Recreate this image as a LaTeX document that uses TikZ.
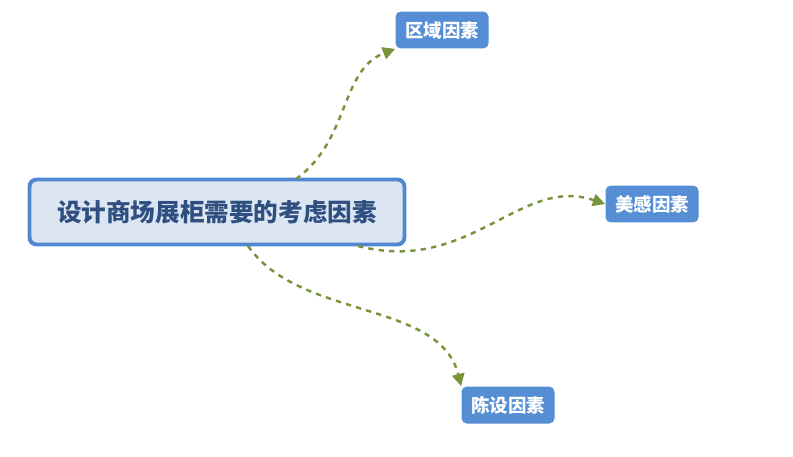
\documentclass[tikz,border=0pt]{standalone}
\usepackage{fontspec}
\setmainfont{Noto Sans CJK SC}
\usetikzlibrary{arrows.meta}
\definecolor{rootfill}{HTML}{DCE6F2}
\definecolor{rootline}{HTML}{4F88D0}
\definecolor{roottext}{HTML}{2F4F80}
\definecolor{leaffill}{HTML}{558ED5}
\definecolor{linkgreen}{HTML}{77933C}

\begin{document}
\begin{tikzpicture}[
        x=0.02cm, y=-0.02cm,
        rootbox/.style={rectangle, rounded corners=4pt, draw=rootline, line width=2.2pt, fill=rootfill,
            text=roottext, font=\fontsize{14}{16}\selectfont\bfseries, minimum width=7.5cm, minimum height=1.3cm},
        leafbox/.style={rectangle, rounded corners=3pt, fill=leaffill, text=white,
            font=\fontsize{10.5}{12}\selectfont\bfseries, minimum width=1.86cm, minimum height=0.74cm},
        link/.style={draw=linkgreen, line width=1.4pt, dashed, -{Triangle[length=7pt,width=7pt]}}
    ]
    \useasboundingbox (0,0) rectangle (793,456);

    % central topic
    \node[rootbox] (root) at (217,212) {设计商场展柜需要的考虑因素};

    % branches
    \node[leafbox] (area) at (442,30) {区域因素};
    \node[leafbox] (beauty) at (652,204) {美感因素};
    \node[leafbox] (layout) at (508,405) {陈设因素};

    % connectors
    \coordinate (s1) at (296,179);
    \coordinate (s2) at (358,246);
    \coordinate (s3) at (248,246);
    \draw[link] (s1) .. controls (350,140) and (340,70) .. (area.south west);
    \draw[link] (s2) .. controls (470,275) and (520,175) .. (beauty.west);
    \draw[link] (s3) .. controls (300,320) and (440,300) .. (layout.north west);
\end{tikzpicture}
\end{document}
